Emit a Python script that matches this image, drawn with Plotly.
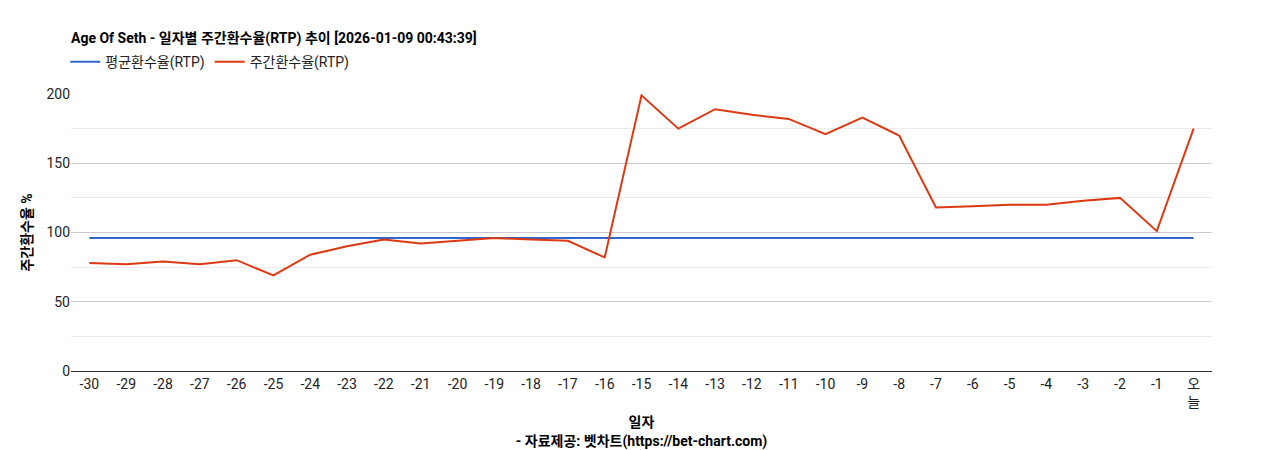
import plotly.graph_objects as go

days = [str(d) for d in range(-30, 0)] + ["오<br>늘"]
weekly_rtp = [78, 77, 79, 77, 80, 69, 84, 90, 95, 92, 94, 96, 95, 94, 82,
              199, 175, 189, 185, 182, 171, 183, 170, 118, 119, 120, 120, 123, 125, 101, 175]
avg_rtp = [96] * len(days)

FONT = "Roboto, Noto Sans CJK KR, sans-serif"

fig = go.Figure()
fig.add_trace(go.Scatter(x=days, y=avg_rtp, mode="lines", name="평균환수율(RTP)",
                         line=dict(color="#3366CC", width=2)))
fig.add_trace(go.Scatter(x=days, y=weekly_rtp, mode="lines", name="주간환수율(RTP)",
                         line=dict(color="#DC3912", width=2)))

fig.update_layout(
    width=1268, height=450,
    paper_bgcolor="white", plot_bgcolor="white",
    font=dict(family=FONT, size=14, color="#222"),
    margin=dict(l=63, r=64, t=86, b=87, autoexpand=False),
    title=dict(text="<b>Age Of Seth - 일자별 주간환수율(RTP) 추이 [2026-01-09 00:43:39]</b>",
               x=63 / 1268, xref="container", y=1 - 30 / 450, yref="container",
               xanchor="left", yanchor="middle",
               font=dict(size=14, color="#000")),
    legend=dict(orientation="h", x=-0.005, y=1.115, xanchor="left", yanchor="middle",
                font=dict(size=14, color="#222")),
    showlegend=True,
)
fig.update_xaxes(type="category", range=[-0.5, len(days) - 0.5], showgrid=False,
                 showline=True, linecolor="#333", ticks="", tickfont=dict(size=14),
                 automargin=False,
                 title=dict(text="<b>일자</b><br><b>- 자료제공: 벳차트(https://bet-chart.com)</b>",
                            font=dict(size=14, color="#000"), standoff=8))
fig.update_yaxes(range=[0, 200], dtick=50, gridcolor="#CCCCCC", zeroline=False,
                 minor=dict(dtick=25, showgrid=True, gridcolor="#EBEBEB"),
                 tickfont=dict(size=14), automargin=False,
                 title=dict(text="<b>주간환수율 %</b>", font=dict(size=14, color="#000"), standoff=10))

fig.write_html("out.html")
